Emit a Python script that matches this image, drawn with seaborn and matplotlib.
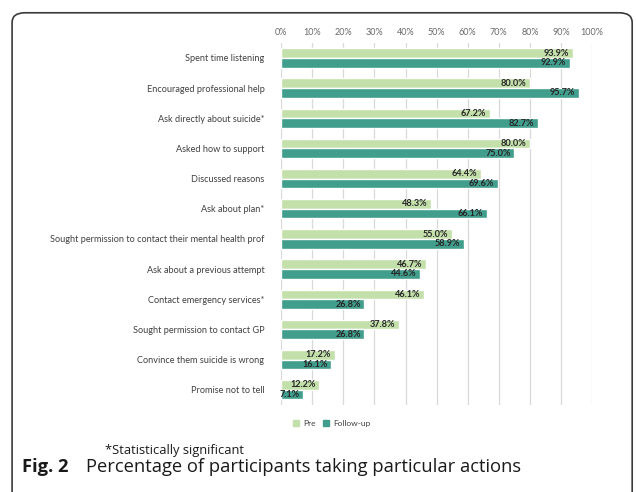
import numpy as np
import pandas as pd
import seaborn as sns
import matplotlib.pyplot as plt
from matplotlib.patches import FancyBboxPatch

actions = ["Spent time listening", "Encouraged professional help",
           "Ask directly about suicide*", "Asked how to support",
           "Discussed reasons", "Ask about plan*",
           "Sought permission to contact their mental health prof",
           "Ask about a previous attempt", "Contact emergency services*",
           "Sought permission to contact GP", "Convince them suicide is wrong",
           "Promise not to tell"]
pre = [93.9, 80.0, 67.2, 80.0, 64.4, 48.3, 55.0, 46.7, 46.1, 37.8, 17.2, 12.2]
follow_up = [92.9, 95.7, 82.7, 75.0, 69.6, 66.1, 58.9, 44.6, 26.8, 26.8, 16.1, 7.1]
periods = ["Pre", "Follow-up"]
colors = ["#c3e0aa", "#419d8c"]

df = pd.DataFrame({
    "action": actions * 2,
    "pct": pre + follow_up,
    "period": [periods[0]] * len(pre) + [periods[1]] * len(follow_up),
})

sns.set_style("white")
plt.rcParams['font.family'] = ['Lato', 'DejaVu Sans']

fig = plt.figure(figsize=(6.36, 4.92), dpi=100)
ax = fig.add_axes([0.442, 0.177, 0.489, 0.736])

sns.barplot(data=df, y="action", x="pct", hue="period", order=actions,
            hue_order=periods, palette=colors, orient="h", width=0.64,
            saturation=1, ax=ax, legend=False)

ax.set_xlim(0, 100)
ax.set_ylim(len(actions) - 0.5, -0.5)
ax.set_xticks(np.arange(0, 101, 10))
ax.set_xticklabels([f"{t}%" for t in range(0, 101, 10)], fontsize=6.5, color="#6a6a6a")
ax.xaxis.tick_top()
ax.tick_params(axis="x", length=0, pad=4)
ax.tick_params(axis="y", length=0, pad=12, labelsize=6.6, labelcolor="#404040")
ax.set_xlabel("")
ax.set_ylabel("")
ax.grid(axis="x", color="#d9d9d9", linewidth=0.9)
ax.set_axisbelow(True)
for s in ax.spines.values():
    s.set_visible(False)

for cont in ax.containers:
    for p in cont:
        w = p.get_width()
        ax.text(p.get_x() + w - 1.2, p.get_y() + p.get_height() / 2,
                f"{w:.1f}%", ha="right", va="center", fontsize=6.6,
                fontweight="bold", color="#262626")

# legend
handles = [plt.Rectangle((0, 0), 1, 1, color=c) for c in colors]
fig.legend(handles, periods, loc="center", bbox_to_anchor=(0.522, 0.14),
           ncol=2, frameon=False, fontsize=6, handlelength=0.7,
           handleheight=0.7, handletextpad=0.5, columnspacing=0.9,
           labelcolor="#404040")

fig.text(0.165, 0.085, "*Statistically significant", fontsize=9.3,
         color="#1a1a1a", ha="left", va="center", family=["Open Sans", "DejaVu Sans"])
fig.text(0.035, 0.05, "Fig. 2", fontsize=13.2, fontweight="bold", ha="left",
         va="center", family=["Open Sans", "DejaVu Sans"], color="#1a1a1a")
fig.text(0.135, 0.05, "Percentage of participants taking particular actions",
         fontsize=13.2, ha="left", va="center", family=["Open Sans", "DejaVu Sans"],
         color="#1a1a1a")

frame = FancyBboxPatch((0.019, -0.05), 0.975, 1.024, transform=fig.transFigure,
                       boxstyle="round,pad=0,rounding_size=0.02",
                       facecolor="none", edgecolor="#3a3a3a", linewidth=1.2,
                       clip_on=False)
fig.patches.append(frame)

fig.savefig("out.png", dpi=100)
